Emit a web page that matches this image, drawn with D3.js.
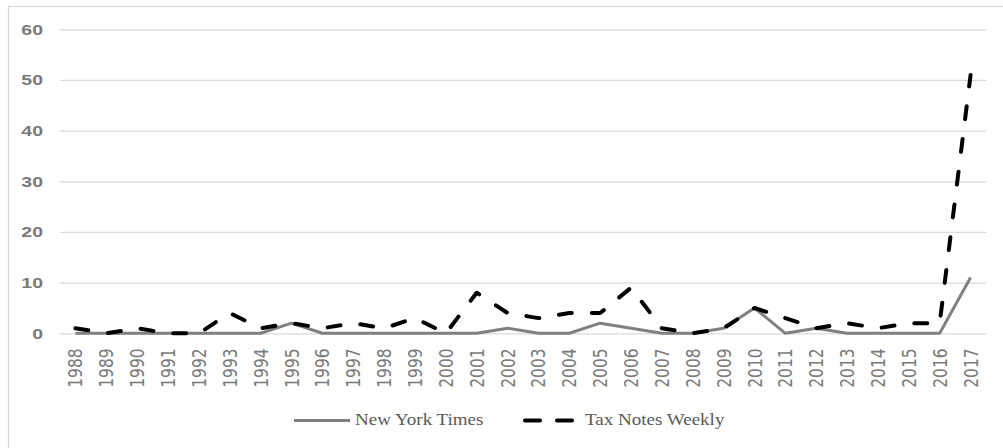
<!DOCTYPE html>
<html>
  <head>
    <script src="https://d3js.org/d3.v7.min.js"></script>
    <style>
      body { margin: 0; background: #fff; }
    </style>
  </head>
  <body>
    <svg width="1003" height="448"></svg>
    <script>
      // data
      var years = [
        "1988", "1989", "1990", "1991", "1992", "1993", "1994", "1995", "1996", "1997",
        "1998", "1999", "2000", "2001", "2002", "2003", "2004", "2005", "2006", "2007",
        "2008", "2009", "2010", "2011", "2012", "2013", "2014", "2015", "2016", "2017"
      ];
      var nytValues = [0, 0, 0, 0, 0, 0, 0, 2, 0, 0, 0, 0, 0, 0, 1, 0, 0, 2, 1, 0, 0, 1, 5, 0, 1, 0, 0, 0, 0, 11];
      var taxValues = [1, 0, 1, 0, 0, 4, 1, 2, 1, 2, 1, 3, 0, 8, 4, 3, 4, 4, 9, 1, 0, 1, 5, 3, 1, 2, 1, 2, 2, 51];
      var yTicks = [0, 10, 20, 30, 40, 50, 60];
      var seriesNames = ["New York Times", "Tax Notes Weekly"];

      var svg = d3.select("svg");
      var stretch = "scale(1.3,1)"; // the picture's text is widened

      // chart frame
      svg.append("rect")
        .attr("x", 8.5).attr("y", 6.5)
        .attr("width", 1100).attr("height", 500)
        .attr("fill", "none")
        .attr("stroke", "#d9d9d9")
        .attr("stroke-width", 1.3);

      var plotLeft = 60, plotRight = 986, plotTop = 29.3, plotBottom = 333.3;

      var xScale = d3.scaleBand().domain(years).range([plotLeft, plotRight]);
      var yScale = d3.scaleLinear().domain([0, 60]).range([plotBottom, plotTop]);
      var cx = function (yr) { return xScale(yr) + xScale.bandwidth() / 2; };

      // y grid + labels
      var yAxis = svg.append("g")
        .attr("transform", "translate(" + plotLeft + ",0)")
        .call(d3.axisLeft(yScale).tickValues(yTicks).tickSize(-(plotRight - plotLeft)));
      yAxis.select(".domain").remove();
      yAxis.selectAll("line").attr("stroke", "#d9d9d9").attr("stroke-width", 1.3);
      yAxis.selectAll("text")
        .attr("x", 0)
        .attr("transform", "translate(-17,0) " + stretch)
        .style("font-family", "Liberation Sans")
        .style("font-weight", "bold")
        .style("font-size", "15px")
        .attr("fill", "#7a7a7a");

      // x labels
      var xAxis = svg.append("g")
        .attr("transform", "translate(0," + plotBottom + ")")
        .call(d3.axisBottom(xScale).tickSize(0));
      xAxis.select(".domain").remove();
      xAxis.selectAll("text")
        .attr("x", 0).attr("y", 0).attr("dy", "0.35em")
        .attr("text-anchor", "end")
        .attr("transform", "translate(0,15) " + stretch + " rotate(-90)")
        .style("font-family", "DejaVu Sans")
        .style("font-size", "15.5px")
        .attr("fill", "#7a7a7a");

      var line = d3.line()
        .x(function (d) { return cx(d[0]); })
        .y(function (d) { return yScale(d[1]); });

      var nyt = years.map(function (yr, i) { return [yr, nytValues[i]]; });
      var tax = years.map(function (yr, i) { return [yr, taxValues[i]]; });

      // New York Times (grey solid)
      svg.append("path")
        .datum(nyt)
        .attr("d", line)
        .attr("fill", "none")
        .attr("stroke", "#808080")
        .attr("stroke-width", 3)
        .attr("stroke-linejoin", "round");

      // Tax Notes Weekly (black dashed)
      svg.append("path")
        .datum(tax)
        .attr("d", line)
        .attr("fill", "none")
        .attr("stroke", "#000")
        .attr("stroke-width", 4)
        .attr("stroke-linecap", "round")
        .attr("stroke-linejoin", "round")
        .attr("stroke-dasharray", "13,20");

      // legend
      var lg = svg.append("g");
      lg.append("line")
        .attr("x1", 294).attr("x2", 350).attr("y1", 420.5).attr("y2", 420.5)
        .attr("stroke", "#808080").attr("stroke-width", 3);
      lg.append("text")
        .attr("transform", "translate(355,425) scale(1.12,1)")
        .style("font-family", "Liberation Serif")
        .style("font-size", "17px")
        .attr("fill", "#595959")
        .text(seriesNames[0]);
      lg.append("line")
        .attr("x1", 525).attr("x2", 575).attr("y1", 420.5).attr("y2", 420.5)
        .attr("stroke", "#000").attr("stroke-width", 4)
        .attr("stroke-linecap", "round")
        .attr("stroke-dasharray", "15,17");
      lg.append("text")
        .attr("transform", "translate(585,425) scale(1.12,1)")
        .style("font-family", "Liberation Serif")
        .style("font-size", "17px")
        .attr("fill", "#595959")
        .text(seriesNames[1]);
    </script>
  </body>
</html>
